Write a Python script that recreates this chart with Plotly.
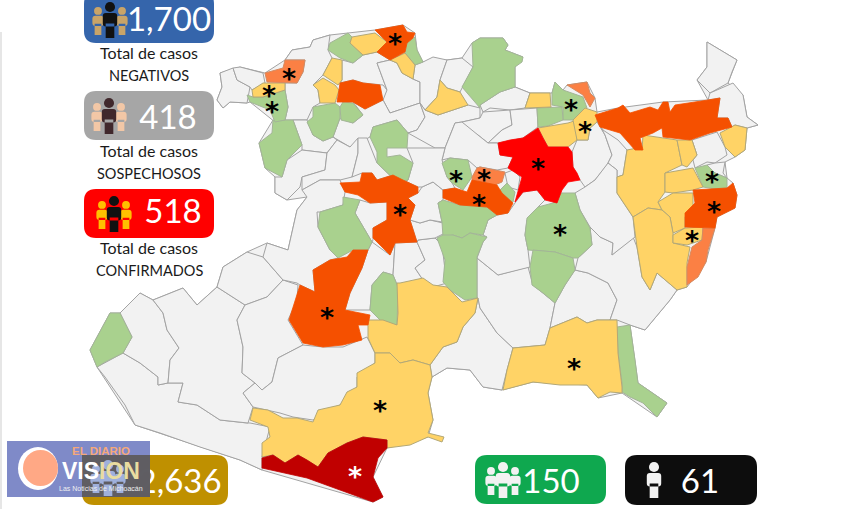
import plotly.graph_objects as go

# ---------- data: municipality outlines (x, y in picture units) ----------
STATE = [[(217,100),(222,87),(220,73),(240,67),(265,73),(285,60),(292,50),(310,47),(313,40),(330,35),(348,33),(375,30),(403,25),(415,33),(417,50),(423,62),(447,60),(462,58),(472,43),(480,38),(503,38),(508,45),(505,50),(523,57),(515,67),(515,87),(530,93),(552,93),(555,82),(563,90),(567,85),(587,82),(595,98),(597,112),(618,108),(663,102),(708,100),(697,80),(707,67),(707,42),(737,60),(732,72),(728,83),(743,95),(747,117),(758,125),(747,128),(745,150),(735,157),(725,162),(727,178),(733,183),(737,195),(735,208),(717,217),(715,228),(706,262),(687,287),(677,290),(670,300),(645,330),(630,325),(635,360),(638,383),(667,403),(657,417),(622,393),(598,398),(587,385),(533,382),(502,390),(483,387),(470,370),(447,368),(432,377),(428,393),(433,420),(428,437),(387,448),(373,477),(383,497),(373,502),(262,470),(240,460),(135,425),(97,367),(90,350),(110,313),(120,313),(140,293),(153,300),(183,288),(197,305),(217,287),(223,267),(247,252),(267,243),(288,250),(297,210),(307,197),(287,200),(275,193),(275,177),(265,168),(259,143),(273,120),(275,122),(250,102),(247,103),(230,102),(223,108)]]
GRAY = [
 [(97,367),(105,377),(125,405),(135,425),(160,433),(200,447),(240,460),(262,470),(262,457),(270,427),(250,423),(247,423),(220,420),(197,405),(178,402),(183,383),(168,383),(158,385),(158,377),(140,363),(123,353)],
 [(120,313),(140,293),(153,300),(163,313),(167,330),(179,348),(170,360),(168,383),(158,385),(158,377),(140,363),(123,353),(132,337)],
 [(153,300),(183,288),(197,305),(217,287),(245,305),(237,320),(243,347),(242,373),(255,383),(243,393),(253,407),(248,423),(220,420),(197,405),(178,402),(183,383),(168,383),(170,360),(179,348),(167,330),(163,313)],
 [(217,287),(223,267),(247,252),(263,257),(283,280),(267,297),(245,305)],
 [(245,305),(267,297),(283,280),(298,285),(297,300),(288,320),(303,345),(278,358),(272,382),(262,390),(255,383),(242,373),(243,347),(237,320)],
 [(303,345),(323,347),(343,347),(367,337),(375,353),(375,363),(357,377),(357,387),(340,405),(327,410),(313,420),(293,417),(280,413),(253,407),(243,393),(255,383),(262,390),(272,382),(278,358)],
 [(478,298),(480,308),(497,333),(513,348),(507,370),(502,390),(483,387),(470,370),(447,368),(432,377),(430,365),(443,347),(457,342),(463,327),(475,313)],
 [(477,258),(498,275),(528,267),(533,285),(555,303),(550,328),(545,345),(513,348),(497,333),(480,308),(478,298),(477,298)],
 [(555,303),(565,285),(575,270),(588,273),(608,283),(617,300),(610,320),(597,320),(587,323),(577,317),(550,328)],
 [(588,273),(575,270),(578,258),(592,245),(590,227),(600,237),(613,243),(612,255),(633,237),(637,247),(642,277),(650,290),(657,273),(677,290),(670,300),(645,330),(630,325),(617,320),(610,320),(617,300),(608,283)],
 [(590,128),(597,122),(605,135),(612,155),(607,165),(595,180),(585,187),(580,180),(573,167),(572,152),(577,140),(588,140)],
 [(597,120),(603,130),(618,140),(625,148),(627,150),(623,175),(617,177),(617,170),(608,163),(612,155),(605,135)],
 [(608,163),(617,170),(617,193),(633,217),(635,237),(612,255),(613,243),(600,237),(590,227),(580,210),(575,193),(585,187),(595,180)],
 [(707,42),(737,60),(732,72),(728,83),(710,93),(697,80),(707,67)],
 [(710,93),(733,83),(743,95),(747,117),(758,125),(747,128),(735,125),(732,127),(728,118),(717,118),(720,98),(708,100)],
 [(692,140),(717,132),(725,147),(727,155),(715,163),(707,162),(695,168),(693,160),(697,155)],
 [(715,163),(725,162),(723,173),(727,178),(715,173),(707,165)],
 [(220,73),(233,68),(237,80),(250,87),(247,103),(230,102),(223,108),(217,100),(222,87)],
 [(233,68),(240,67),(263,73),(265,83),(252,90),(250,87),(237,80)],
 [(285,60),(292,50),(310,47),(313,40),(330,35),(328,50),(332,58),(323,75),(313,85),(318,90),(320,103),(313,107),(307,120),(293,120),(285,120),(288,107),(285,90),(285,83),(297,83),(303,72),(305,60)],
 [(342,60),(353,63),(363,55),(377,52),(390,60),(377,63),(387,90),(383,85),(363,83),(353,80),(340,83),(342,80)],
 [(377,63),(390,60),(397,63),(402,73),(413,79),(420,82),(420,103),(390,113),(383,100),(387,90)],
 [(365,109),(383,100),(390,113),(420,103),(425,117),(417,130),(408,133),(397,120),(373,127),(370,137),(350,147),(337,140),(333,137),(340,118),(353,123),(363,115),(353,102)],
 [(415,65),(423,62),(433,57),(447,60),(440,80),(437,97),(425,110),(420,103),(420,82),(413,79)],
 [(447,60),(462,58),(473,67),(462,87),(460,92),(447,88),(440,80)],
 [(425,110),(438,115),(453,110),(468,105),(480,108),(480,118),(462,122),(455,123),(445,148),(435,148),(408,133),(417,130),(425,117),(420,103)],
 [(480,105),(500,92),(515,87),(530,93),(525,108),(510,110),(490,108),(483,112)],
 [(483,112),(510,110),(512,125),(502,130),(488,143),(478,135),(468,130),(462,122),(480,118)],
 [(510,110),(537,108),(538,127),(523,138),(498,143),(488,143),(502,130),(512,125)],
 [(455,123),(462,122),(478,135),(488,143),(498,143),(500,155),(513,157),(508,168),(497,170),(480,167),(477,168),(468,160),(450,158),(442,160),(445,148)],
 [(298,120),(307,120),(313,135),(323,141),(333,137),(337,140),(327,153),(302,150),(302,145),(293,120)],
 [(287,160),(302,150),(327,153),(325,170),(302,177),(300,187),(287,200),(275,193),(275,177),(282,177)],
 [(302,177),(325,170),(327,153),(337,140),(350,147),(358,138),(358,153),(352,177),(340,180),(320,180),(302,190)],
 [(358,138),(367,138),(377,163),(398,183),(403,180),(393,175),(377,180),(372,173),(362,173),(352,177),(358,153)],
 [(307,197),(302,190),(320,180),(340,180),(345,192),(343,205),(320,212),(317,212),(318,227),(330,250),(338,258),(330,260),(313,270),(315,292),(300,285),(297,283),(283,280),(263,257),(267,243),(288,250),(297,210)],
 [(360,200),(370,203),(387,202),(387,220),(373,228),(373,240),(372,242),(355,213)],
 [(372,242),(390,255),(395,243),(393,275),(383,272),(372,285),(370,310),(345,310),(350,293),(362,268),(368,250)],
 [(395,243),(417,242),(425,260),(415,268),(423,280),(413,285),(398,287),(393,275)],
 [(417,242),(418,240),(435,238),(442,245),(445,270),(447,283),(433,287),(423,280),(415,268),(425,260)],
 [(410,220),(420,223),(430,220),(443,223),(445,233),(435,238),(418,240),(417,242)],
 [(418,193),(422,187),(433,182),(443,190),(443,200),(438,203),(442,222),(430,220),(420,223),(410,220),(415,205),(408,198)],
 [(398,183),(408,180),(413,163),(407,148),(435,148),(445,148),(442,160),(447,177),(452,183),(455,188),(443,190),(433,182),(422,187),(418,187),(403,180)],
 [(497,215),(508,213),(515,203),(523,192),(537,190),(545,200),(538,207),(527,220),(525,235),(528,250),(530,267),(498,275),(477,258),(483,242),(487,237),(483,235),(488,220)],
 [(505,173),(513,170),(520,177),(518,190),(508,187)],
]
GREEN = [
 [(90,350),(110,313),(120,313),(132,337),(123,353),(105,362),(97,367)],
 [(330,43),(348,33),(352,37),(350,43),(363,55),(353,63),(340,58),(328,50)],
 [(415,37),(417,50),(423,62),(415,65),(405,53),(407,43)],
 [(313,107),(335,103),(340,107),(340,118),(333,137),(323,141),(313,135),(307,122),(313,117)],
 [(343,102),(353,103),(363,115),(353,123),(341,120),(340,107)],
 [(273,120),(293,120),(302,145),(287,160),(282,177),(265,168),(259,143),(272,133)],
 [(247,95),(253,97),(263,97),(285,90),(288,107),(285,120),(275,122),(270,110),(250,102)],
 [(472,43),(480,38),(503,38),(508,45),(505,50),(523,57),(522,62),(515,67),(515,87),(500,92),(480,105),(480,108),(462,87),(473,67)],
 [(373,127),(397,120),(408,133),(407,148),(387,148),(387,157),(400,155),(413,163),(408,180),(398,183),(377,163),(377,152),(370,137)],
 [(442,163),(450,158),(468,160),(472,177),(463,190),(452,183),(447,177)],
 [(507,183),(515,192),(513,202),(502,197),(498,192)],
 [(443,200),(460,205),(487,207),(497,215),(488,220),(483,235),(470,233),(462,238),(453,235),(443,237),(442,222),(438,203)],
 [(437,238),(443,235),(453,235),(462,238),(470,233),(487,237),(483,242),(477,257),(477,298),(465,300),(462,298),(450,290),(443,282),(445,260)],
 [(527,218),(538,207),(553,203),(560,193),(575,193),(580,210),(590,228),(592,245),(578,258),(573,258),(555,252),(533,250),(528,250),(525,235)],
 [(533,250),(555,252),(573,258),(575,270),(565,285),(555,303),(543,293),(532,285),(530,267)],
 [(343,197),(360,200),(355,213),(372,242),(368,250),(353,250),(338,258),(330,250),(318,227),(320,212),(343,205)],
 [(383,272),(393,275),(398,287),(397,325),(385,325),(370,310),(372,285)],
 [(617,327),(630,325),(635,360),(638,383),(667,403),(657,417),(643,403),(630,397),(622,392),(622,383),(618,353)],
 [(555,82),(563,90),(583,97),(587,108),(577,120),(563,120),(563,107),(552,105),(552,93)],
 [(537,108),(562,107),(563,120),(548,126),(538,127)],
 [(695,168),(707,165),(715,173),(727,178),(727,188),(715,189),(703,187)],
]
YELLOW = [
 [(352,37),(375,33),(387,42),(377,52),(363,55),(350,43)],
 [(390,60),(405,53),(415,65),(413,79),(402,73),(397,63)],
 [(332,58),(342,60),(342,80),(338,85),(323,75)],
 [(323,78),(335,85),(339,90),(335,103),(320,103),(318,90),(313,85)],
 [(252,90),(263,83),(285,83),(285,90),(263,97),(253,97)],
 [(440,80),(447,88),(460,92),(468,105),(453,110),(438,115),(425,110),(437,97)],
 [(530,93),(550,93),(551,107),(525,108)],
 [(538,128),(568,123),(577,120),(577,140),(568,147),(548,147)],
 [(573,120),(585,108),(597,112),(597,122),(590,128),(588,140),(577,140)],
 [(720,133),(735,125),(747,128),(745,150),(735,157),(725,147)],
 [(627,150),(637,148),(642,150),(643,135),(677,140),(682,165),(665,173),(665,192),(658,202),(662,210),(648,208),(633,217),(617,193),(617,177),(623,175)],
 [(677,140),(692,140),(697,155),(687,167),(682,165)],
 [(665,173),(693,168),(703,187),(693,190),(673,193),(665,192)],
 [(658,202),(673,193),(693,193),(693,207),(685,217),(685,228),(673,233),(670,217),(662,210)],
 [(633,217),(648,208),(662,210),(670,217),(673,233),(673,243),(690,247),(687,263),(687,287),(677,290),(657,273),(650,290),(642,277),(637,247)],
 [(673,235),(685,228),(703,227),(702,240),(687,245),(673,243)],
 [(400,283),(423,278),(433,285),(447,287),(462,302),(478,298),(475,313),(463,327),(457,342),(443,347),(430,365),(413,360),(400,363),(390,353),(375,353),(368,338),(368,320),(383,320),(397,325),(398,313),(397,283)],
 [(375,353),(390,353),(400,363),(413,360),(430,365),(432,377),(428,393),(433,420),(428,433),(444,437),(442,442),(428,437),(410,445),(387,448),(387,440),(363,437),(347,443),(328,453),(318,467),(307,460),(298,455),(285,463),(273,455),(262,457),(262,443),(270,437),(268,427),(250,420),(253,408),(268,410),(283,418),(297,418),(313,422),(318,410),(340,405),(347,392),(357,387),(357,373),(375,363)],
 [(513,348),(545,345),(550,328),(577,317),(587,323),(597,320),(617,320),(618,353),(622,387),(622,393),(610,392),(598,398),(587,385),(560,385),(533,382),(503,390),(507,370)],
]
ORANGE = [
 [(265,73),(283,68),(285,60),(305,60),(303,72),(297,83),(267,82)],
 [(480,167),(497,170),(505,172),(502,182),(495,185),(472,180),(472,177),(477,168)],
 [(567,85),(587,82),(590,93),(595,98),(590,107),(583,95)],
 [(703,228),(715,228),(708,250),(706,262),(698,277),(687,285),(687,267),(692,247),(702,240)],
]
DEEP_ORANGE = [
 [(375,30),(403,25),(407,32),(415,33),(413,38),(407,43),(405,52),(390,60),(377,52),(387,42)],
 [(340,83),(353,80),(363,83),(380,85),(383,100),(365,109),(353,102),(337,102),(339,90)],
 [(595,115),(618,108),(623,105),(630,113),(650,107),(658,110),(663,102),(668,102),(670,112),(675,105),(708,100),(720,98),(717,118),(728,118),(732,127),(710,133),(690,140),(663,137),(662,128),(653,133),(640,138),(643,150),(635,150),(620,133),(600,127)],
 [(340,183),(360,182),(362,173),(372,173),(377,180),(393,175),(403,180),(418,187),(418,193),(408,198),(415,205),(410,220),(417,242),(395,243),(390,255),(373,238),(373,228),(387,220),(387,202),(370,203),(358,195),(345,192)],
 [(443,190),(455,188),(467,192),(472,180),(497,185),(502,193),(513,203),(508,213),(497,215),(487,207),(460,205),(443,198)],
 [(368,250),(362,268),(350,293),(345,310),(370,315),(368,325),(358,325),(362,340),(343,345),(323,347),(303,343),(289,320),(300,285),(315,292),(313,270),(330,260),(347,257),(353,250)],
 [(693,190),(727,188),(733,183),(737,195),(735,208),(717,217),(715,228),(685,227),(685,213),(695,203)],
]
RED = [[(498,143),(510,140),(523,138),(530,133),(538,128),(543,138),(548,147),(568,147),(572,152),(573,167),(577,173),(580,180),(568,182),(562,190),(557,203),(545,200),(537,190),(523,192),(515,202),(522,177),(508,168),(513,157),(500,155)]]
DARK_RED = [[(262,458),(273,455),(285,463),(298,455),(307,460),(318,467),(328,453),(347,443),(363,437),(387,440),(387,448),(378,458),(373,477),(383,497),(373,502),(340,490),(307,478),(262,468)]]

STAR_X = [395,289,269,272,571,585,538,484,456,479,400,712,714,692,560,327,574,380]
STAR_Y = [40,75,92,108,106,128,165,176,177,201,211,178,208,237,231,314,365,407]
WHITE_STAR = (355,473)

BADGE_VALUES = ["1,700","418","518","12,636","150","61"]
BADGE_VALUE_X = [169,168,173,170,551,700]
BADGE_VALUE_Y = [23,121,215,485,485,485]
BADGE_BOXES = [(84,-8,214,43),(84,91,214,140),(84,189,214,238),(82,455,228,505),(475,455,606,504),(625,455,757,505)]
BADGE_COLORS = ["#3565ab","#a6a6a6","#ff0000","#bf9000","#0fa84f","#0d0d0d"]
CAPTIONS = [("Total de casos",149,52,16),("NEGATIVOS",149,75,14.5),("Total de casos",149,150,16),("SOSPECHOSOS",149,173,14.5),
            ("Total de casos",149,247,16),("CONFIRMADOS",149,270,14.5),("DEFUNCIONES",690,515,14.5)]
# icon: centre x, top y, height, body colour, side colour
ICONS = [(110,2,36,"#111111","#c9a468"),(109,98,36,"#40282c","#f2c7a6"),(114,196,36,"#111111","#ffc000"),
         (503,462,36,"#f2f2f2","#f2f2f2"),(654,462,36,"#f2f2f2",None),(108,460,36,"#9fb0dc","#9fb0dc")]

FONT = "Lato"
fig = go.Figure()

def add_polys(polys, fill, line, width=1):
    for p in polys:
        xs = [a for a, _ in p] + [p[0][0]]
        ys = [b for _, b in p] + [p[0][1]]
        fig.add_trace(go.Scatter(x=xs, y=ys, mode="lines", fill="toself", fillcolor=fill,
                                 line=dict(color=line, width=width), hoverinfo="skip", showlegend=False))

add_polys(STATE, "#f2f2f2", "#a3a3a3")
add_polys(GRAY, "#f2f2f2", "#a3a3a3")
add_polys(GREEN, "#a9d18e", "#a3b597")
add_polys(YELLOW, "#ffd366", "#b3a877")
add_polys(ORANGE, "#fb8044", "#d68a60")
add_polys(DEEP_ORANGE, "#f55000", "#f55000", 0.8)
add_polys(RED, "#ff0000", "#ff0000", 0.8)
add_polys(DARK_RED, "#c00000", "#c00000", 0.8)

def rounded(x0, y0, x1, y1, r):
    return (f"M{x0+r},{y0} L{x1-r},{y0} Q{x1},{y0} {x1},{y0+r} L{x1},{y1-r} Q{x1},{y1} {x1-r},{y1} "
            f"L{x0+r},{y1} Q{x0},{y1} {x0},{y1-r} L{x0},{y0+r} Q{x0},{y0} {x0+r},{y0} Z")

shapes = []
for (x0, y0, x1, y1), c in zip(BADGE_BOXES, BADGE_COLORS):
    shapes.append(dict(type="path", path=rounded(x0, y0, x1, y1, 12), fillcolor=c, line=dict(width=0), layer="below"))

def person(cx, top, h, color, layer="above"):
    r = h * 0.14
    w = h * 0.2
    out = [dict(type="circle", x0=cx-r, x1=cx+r, y0=top, y1=top+2*r, fillcolor=color, line=dict(width=0), layer=layer)]
    out.append(dict(type="path", path=rounded(cx-w, top+2*r+1, cx+w, top+h*0.68, 3) +
                    f" M{cx-w*0.6},{top+h*0.6} L{cx+w*0.6},{top+h*0.6} L{cx+w*0.6},{top+h} L{cx-w*0.6},{top+h} Z",
                    fillcolor=color, line=dict(width=0), layer=layer))
    return out

for cx, top, h, body, side in ICONS:
    if side:
        shapes += person(cx-12, top+5, h*0.78, side)
        shapes += person(cx+12, top+5, h*0.78, side)
    shapes += person(cx, top, h, body)

# logo panel lies above the gold badge
shapes.insert(len(shapes)-6, dict(type="rect", x0=7, x1=150, y0=441, y1=497, fillcolor="#7b86c6", line=dict(width=0), layer="above", opacity=0.97))
shapes.insert(len(shapes)-6, dict(type="rect", x0=82, x1=150, y0=455, y1=497, fillcolor="#57524a", line=dict(width=0), layer="above", opacity=0.8))
shapes.append(dict(type="circle", x0=18, x1=58, y0=447, y1=490, fillcolor="#ffffff", line=dict(width=0), layer="above"))
shapes.append(dict(type="circle", x0=23, x1=58, y0=450, y1=486, fillcolor="#ffa885", line=dict(width=0), layer="above"))
# thin strip at the left edge
shapes.append(dict(type="rect", x0=0, x1=2, y0=32, y1=509, fillcolor="#e6e6e6", line=dict(width=0), layer="below"))

fig.add_trace(go.Scatter(x=BADGE_VALUE_X, y=BADGE_VALUE_Y, mode="text", text=BADGE_VALUES,
                         textfont=dict(family=FONT, size=33, color="#ffffff"),
                         textposition="middle center", hoverinfo="skip", showlegend=False))

ann = []
for t, x, y, s in CAPTIONS:
    ann.append(dict(x=x, y=y, text=t, showarrow=False, font=dict(family=FONT, size=s, color="#1a1a1a"), xanchor="center", yanchor="middle"))
for x, y in zip(STAR_X, STAR_Y):
    ann.append(dict(x=x, y=y, text="<b>*</b>", showarrow=False, yshift=-3.5, font=dict(family="DejaVu Sans", size=27, color="#000000"), xanchor="center", yanchor="middle"))
ann.append(dict(x=WHITE_STAR[0], y=WHITE_STAR[1], text="<b>*</b>", showarrow=False, yshift=-3.5, font=dict(family="DejaVu Sans", size=27, color="#ffffff"), xanchor="center", yanchor="middle"))
ann.append(dict(x=101, y=451, text="<b>EL DIARIO</b>", showarrow=False, font=dict(family="Liberation Sans", size=11.5, color="#f5a87a")))
ann.append(dict(x=101, y=471, text="<b>VIS<span style='color:#e8dca0'>ION</span></b>", showarrow=False, font=dict(family="Liberation Sans", size=23, color="#ffffff")))
ann.append(dict(x=101, y=488, text="Las Noticias de Michoacán", showarrow=False, font=dict(family="Liberation Sans", size=7, color="#f0f0f0")))

fig.update_layout(width=850, height=509, margin=dict(l=0, r=0, t=0, b=0), paper_bgcolor="#ffffff", plot_bgcolor="#ffffff",
                  showlegend=False, shapes=shapes, annotations=ann,
                  xaxis=dict(range=[0,850], visible=False, fixedrange=True),
                  yaxis=dict(range=[509,0], visible=False, fixedrange=True))
fig.write_html("out.html", config=dict(displayModeBar=False),
               post_script="document.body.style.margin='0';document.body.style.overflow='hidden';")
